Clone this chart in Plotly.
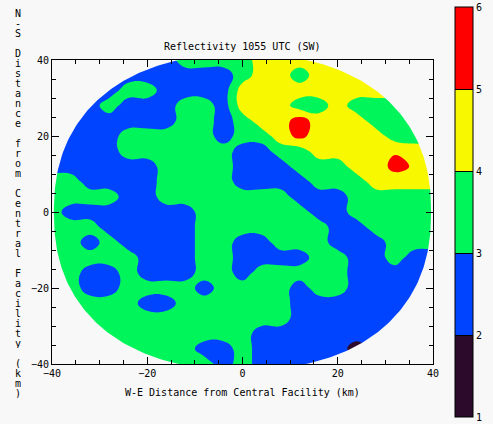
import numpy as np
import plotly.graph_objects as go

# ---- data -------------------------------------------------------------
x_km = list(range(-40, 41, 4))          # W-E grid (km)
y_km = list(range(40, -41, -4))         # N-S grid (km), top row first

# reflectivity class per grid node (D<2, B 2-3, G 3-4, Y 4-5, R 5-6)
band_value = {"D": 1.5, "B": 2.5, "G": 3.5, "Y": 4.5, "q": 4.9, "r": 5.3, "R": 5.5}
refl_rows = [
    "BBBBBBBGGGGYYYYYYYYYY",  # 40
    "BBBBBBBBBBGYYGYYYYYYY",  # 36
    "BBBBGGBBBBYYYYYYYYYYY",  # 32
    "BBBGBBBGGBYYYGGYGGGGG",  # 28
    "BBBBBBBGGBGYYRYYYGGGG",  # 24
    "BBBBGGGGGBGGYrYYYYGGG",  # 20
    "BBBBGGGGGGBBGGYYYYqYY",  # 16
    "BBBBBBGGGGBBBGGGYYrqY",  # 12
    "GGBBBBGGGGBBBBGGGYYYY",  # 8
    "GGGGBBGGGGGGGBBBGGGGG",  # 4
    "GBBBBBBBGGGGGGBBGGGGG",  # 0
    "GGGBBBBBGGGGGGGBBGGGG",  # -4
    "GGBGBBBBGGBBGGGBBBGGG",  # -8
    "GGGGGBBBGGBBBBGGBBGBB",  # -12
    "GGBBGBBBGGBGGGGGBBBBB",  # -16
    "GGBBGGGGBGGGGBGGBBBBB",  # -20
    "GGGGGBBGGGGGGBBBBBBBB",  # -24
    "GGGGGGGGGGGGGBBBBBBBB",  # -28
    "GGGGGGGGGGGBBBBBBBBBB",  # -32
    "GGGGGGGGBBGBBBBBDBBBB",  # -36
    "GGGGGGGGGBGBBBBBBBBBB",  # -40
]
z = [[band_value[c] for c in row] for row in refl_rows]

cbar_ticks = [1, 2, 3, 4, 5, 6]

# radar coverage outline (superellipse semi-axes, km)
cover_ax, cover_ay, cover_p = 39.6, 41.5, 2.3

# ---- style ------------------------------------------------------------
BG = "#f8f8f8"
FONT = "DejaVu Sans Mono"
c_dark, c_blue, c_green, c_yel, c_red = "#2b0a2b", "#0044ff", "#00f55a", "#f8f800", "#ff0000"
cscale = [[0.0, c_dark], [0.2, c_dark], [0.2, c_blue], [0.4, c_blue],
          [0.4, c_green], [0.6, c_green], [0.6, c_yel], [0.8, c_yel],
          [0.8, c_red], [1.0, c_red]]

W, H = 493, 424
L, R, T, B = 52, 60, 60, 60
pw, ph = W - L - R, H - T - B

fig = go.Figure()
fig.add_trace(go.Contour(
    x=x_km, y=y_km, z=z, zmin=1, zmax=6,
    contours=dict(start=1, end=6, size=1, coloring="fill", showlines=False),
    line=dict(width=0, smoothing=1.3),
    colorscale=cscale, hoverinfo="skip",
    colorbar=dict(
        x=(455 - L) / pw, xanchor="left", xpad=0,
        y=(H - B - 7) / ph, yanchor="top", ypad=0,
        lenmode="pixels", len=410, thickness=18,
        outlinecolor="black", outlinewidth=1,
        tickvals=cbar_ticks, ticktext=[str(t) for t in cbar_ticks],
        ticks="inside", ticklen=18, tickcolor="black", tickwidth=1,
        tickfont=dict(family=FONT, size=10, color="black"),
    ),
))

# mask outside the radar coverage
t = np.linspace(0, 2 * np.pi, 361)
ex = cover_ax * np.sign(np.cos(t)) * np.abs(np.cos(t)) ** (2 / cover_p)
ey = cover_ay * np.sign(np.sin(t)) * np.abs(np.sin(t)) ** (2 / cover_p)
mx = [60, 60, -60, -60, 60, 60] + list(ex[::-1]) + [60]
my = [0, 60, 60, -60, -60, 0] + list(ey[::-1]) + [0]
fig.add_trace(go.Scatter(x=mx, y=my, mode="lines", fill="toself",
                         fillcolor=BG, line=dict(width=0, color=BG),
                         hoverinfo="skip", showlegend=False))

axis_common = dict(
    range=[-40, 40], showline=True, linecolor="black", linewidth=1,
    mirror="ticks", ticks="inside", ticklen=7, tickcolor="black",
    tickvals=[-40, -20, 0, 20, 40], showgrid=False, zeroline=False,
    tickfont=dict(family=FONT, size=10, color="black"),
    minor=dict(dtick=5, ticks="inside", ticklen=4, tickcolor="black", showgrid=False),
)
fig.update_xaxes(**axis_common)
fig.update_yaxes(**axis_common)

annotations = [
    dict(text="Reflectivity 1055 UTC (SW)", xref="paper", yref="paper",
         x=0.5, y=(H - B - 47) / ph, showarrow=False,
         font=dict(family=FONT, size=10, color="black"), yanchor="middle"),
    dict(text="W-E Distance from Central Facility (km)", xref="paper", yref="paper",
         x=0.5, y=(H - B - 392) / ph, showarrow=False,
         font=dict(family=FONT, size=10, color="black"), yanchor="middle"),
]
ylabel = "N-S Distance from Central Facility (km)"
for i, ch in enumerate(ylabel):
    if ch == " ":
        continue
    annotations.append(dict(
        text=ch, xref="paper", yref="paper",
        x=(18 - L) / pw, y=(H - B - (13 + 10 * i)) / ph,
        showarrow=False, xanchor="center", yanchor="middle", height=10,
        font=dict(family=FONT, size=10, color="black")))

fig.update_layout(
    width=W, height=H,
    margin=dict(l=L, r=R, t=T, b=B, pad=0, autoexpand=False),
    paper_bgcolor=BG, plot_bgcolor=BG, showlegend=False,
    annotations=annotations,
)
fig.write_html("out.html")
